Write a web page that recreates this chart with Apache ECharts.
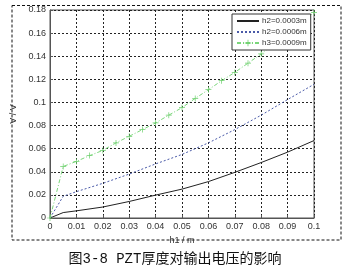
<!DOCTYPE html>
<html>
<head>
<meta charset="utf-8">
<script src="https://cdn.jsdelivr.net/npm/echarts@6/dist/echarts.min.js"></script>
<style>
html,body{margin:0;padding:0;background:#fff;}
#c{width:350px;height:272px;}
</style>
</head>
<body>
<div id="c"></div>
<script>
// Data
var xGreen = [0,0.005,0.01,0.015,0.02,0.025,0.03,0.035,0.04,0.045,0.05,0.055,0.06,0.065,0.07,0.075,0.08,0.085,0.09,0.095,0.1];
var h3 = [0,0.0446,0.049,0.054,0.0585,0.065,0.0707,0.0765,0.0823,0.089,0.0955,0.1035,0.111,0.1188,0.126,0.134,0.142,0.151,0.160,0.169,0.178];
var xLines = [0,0.005,0.01,0.02,0.03,0.04,0.05,0.06,0.07,0.08,0.09,0.1];
var h2a = [0,0.0047,0.0062,0.0095,0.0143,0.0198,0.025,0.0315,0.0395,0.048,0.057,0.067];
var h2b = [0,0.0188,0.0228,0.030,0.038,0.0468,0.055,0.065,0.0765,0.089,0.1025,0.1157];
var seriesNames = ['h2=0.0003m','h2=0.0006m','h3=0.0009m'];
var xTicks = [0,0.01,0.02,0.03,0.04,0.05,0.06,0.07,0.08,0.09,0.1];
var yTicks = [0,0.02,0.04,0.06,0.08,0.1,0.12,0.14,0.16,0.18];
var caption = '图3-8 PZT厚度对输出电压的影响';

function pairs(xs, ys){ return xs.map(function(x,i){ return [x, ys[i]]; }); }

var chart = echarts.init(document.getElementById('c'), null, {renderer:'canvas'});
var labelStyle = {color:'#333', fontSize:9, fontFamily:'Liberation Sans, Arial, sans-serif'};
var plus = 'path://M4.4,0H5.6V4.4H10V5.6H5.6V10H4.4V5.6H0V4.4H4.4Z';
chart.setOption({
  animation:false,
  backgroundColor:'#fff',
  grid:{left:50,right:36,top:10,bottom:54,show:true,borderColor:'#555',borderWidth:1,backgroundColor:'transparent'},
  xAxis:{
    type:'value',min:0,max:0.1,interval:0.01,
    name:'h1 / m',nameLocation:'middle',nameGap:13,
    nameTextStyle:{color:'#333',fontSize:9,fontFamily:'Liberation Sans, Arial, sans-serif'},
    axisLine:{show:true,lineStyle:{color:'#555',width:1}},
    axisTick:{show:true,inside:true,length:3,lineStyle:{color:'#555'}},
    axisLabel:Object.assign({margin:4,formatter:function(v){return String(+v.toFixed(2));}},labelStyle),
    splitLine:{show:true,lineStyle:{color:'#222',type:[2,2],width:1}}
  },
  yAxis:{
    type:'value',min:0,max:0.18,interval:0.02,
    name:'V / V',nameLocation:'middle',nameGap:28,nameRotate:90,
    nameTextStyle:{color:'#333',fontSize:9,fontFamily:'Liberation Sans, Arial, sans-serif'},
    axisLine:{show:true,lineStyle:{color:'#555',width:1}},
    axisTick:{show:true,inside:true,length:3,lineStyle:{color:'#555'}},
    axisLabel:Object.assign({margin:4,formatter:function(v){return String(+v.toFixed(2));}},labelStyle),
    splitLine:{show:true,lineStyle:{color:'#222',type:[2,2],width:1}}
  },
  legend:{
    orient:'vertical',left:232,top:14,
    backgroundColor:'#fff',borderColor:'#333',borderWidth:1,
    padding:[3,4,3,4],itemGap:3,itemWidth:22,itemHeight:8,
    textStyle:{color:'#333',fontSize:8,fontFamily:'Liberation Sans, Arial, sans-serif',padding:[0,0,0,-2]},
    data:[
      {name:seriesNames[0],itemStyle:{opacity:0}},
      {name:seriesNames[1],itemStyle:{opacity:0}},
      {name:seriesNames[2]}
    ]
  },
  series:[
    {name:seriesNames[0],type:'line',data:pairs(xLines,h2a),showSymbol:false,symbol:'none',
     lineStyle:{color:'#222',width:1,type:'solid'},itemStyle:{color:'#222'},z:3},
    {name:seriesNames[1],type:'line',data:pairs(xLines,h2b),showSymbol:false,symbol:'none',
     lineStyle:{color:'#4a5aa8',width:1,type:[2,2]},itemStyle:{color:'#4a5aa8'},z:3},
    {name:seriesNames[2],type:'line',data:pairs(xGreen,h3),symbol:plus,symbolSize:6,showSymbol:true,
     lineStyle:{color:'#7ad67a',width:1,type:[4,2,1,2]},itemStyle:{color:'#6fd06f'},z:3}
  ],
  graphic:[
    {type:'rect',shape:{x:12,y:5.5,width:329,height:234.5},
     style:{fill:null,stroke:'#111',lineWidth:1,lineDash:[3,2]},silent:true},
    {type:'text',left:'center',top:252,
     style:{text:caption,fill:'#111',font:'14px "Liberation Mono", "Noto Sans CJK SC", monospace'}}
  ]
});
</script>
</body>
</html>
